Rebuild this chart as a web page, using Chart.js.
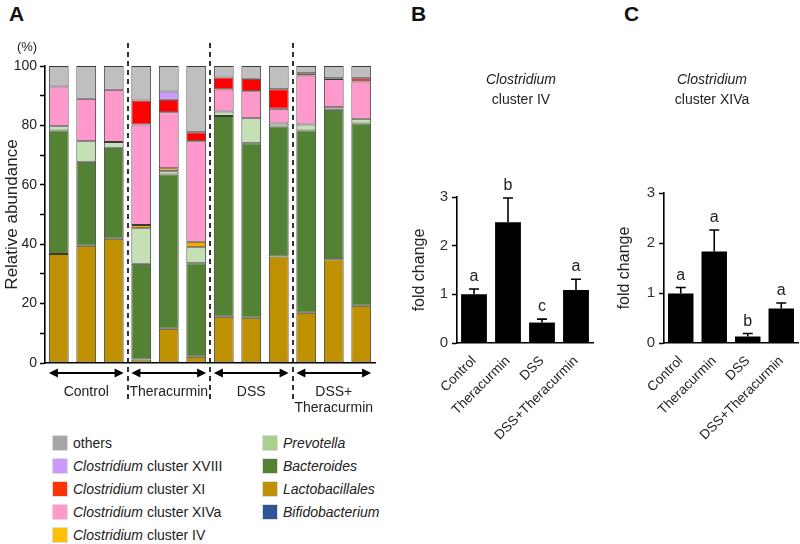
<!DOCTYPE html>
<html>
<head>
<meta charset="utf-8">
<script src="https://cdn.jsdelivr.net/npm/chart.js@4.4.0/dist/chart.umd.min.js"></script>
<style>
	body { margin: 0; width: 800px; height: 544px; position: relative; background: #fff; overflow: hidden;
		font-family: "Liberation Sans", Arial, sans-serif; color: #222; }
	canvas { position: absolute; top: 0; }
	.letter { position: absolute; font-weight: bold; font-size: 21px; color: #111; }
	.legend { position: absolute; font-size: 14px; color: #222; }
	.legend div { height: 23px; display: flex; align-items: center; white-space: nowrap; }
	.legend .sw { width: 16px; height: 16px; margin-right: 5px; display: inline-block; box-sizing: border-box; border: 1px solid #ddd; }
</style>
</head>
<body>
<div class="letter" style="left:9px;top:2px">A</div>
<div class="letter" style="left:411px;top:2px">B</div>
<div class="letter" style="left:624px;top:2px">C</div>

<canvas id="chartA" width="380" height="420" style="left:0"></canvas>
<canvas id="chartB" width="200" height="470" style="left:400px"></canvas>
<canvas id="chartC" width="195" height="470" style="left:605px"></canvas>

<div class="legend" id="legend1" style="left:52px;top:431px"></div>
<div class="legend" id="legend2" style="left:262px;top:431px"></div>

<script>
	'use strict';

	// Panel A: relative abundance (%), 3 mice per group
	const sampleLabels = ['C1', 'C2', 'C3', 'T1', 'T2', 'T3', 'D1', 'D2', 'D3', 'DT1', 'DT2', 'DT3'];
	const groupLabels = [['Control'], ['Theracurmin'], ['DSS'], ['DSS+', 'Theracurmin']];
	const bifidobacterium = [0, 0, 0, 0, 0, 0, 0, 0, 0, 0, 0, 0];
	const lactobacillales = [36.7, 39.5, 41.8, 1.2, 11.5, 2.1, 15.6, 15.2, 35.9, 16.9, 34.9, 19.3];
	const bacteroides = [41.6, 28.3, 30.7, 32.2, 52.0, 31.5, 67.6, 58.8, 43.7, 61.4, 50.4, 61.3];
	const prevotella = [1.4, 6.9, 1.9, 12.0, 1.1, 5.4, 1.5, 8.4, 1.0, 2.0, 0.8, 1.6];
	const clusterIV = [0, 0, 0, 1.1, 1.0, 1.8, 0, 0, 0, 0, 0, 0];
	const clusterXIVa = [13.4, 14.3, 17.6, 33.8, 18.8, 33.9, 7.4, 9.1, 5.0, 16.5, 9.5, 12.6];
	const clusterXI = [0, 0, 0, 8.1, 4.2, 3.0, 4.0, 4.2, 6.6, 0.8, 0.3, 1.1];
	const clusterXVIII = [0, 0, 0, 0, 2.8, 0, 0, 0, 0, 0, 0, 0];
	const others = [6.9, 11.0, 8.0, 11.6, 8.6, 22.3, 3.9, 4.3, 7.8, 2.4, 4.1, 4.1];
	const abundanceTicks = [0, 20, 40, 60, 80, 100];

	// Panels B and C: fold change (mean, SE)
	const foldCategories = ['Control', 'Theracurmin', 'DSS', 'DSS+Theracurmin'];
	const clusterIVMean = [1.0, 2.48, 0.42, 1.09];
	const clusterIVErr = [0.11, 0.50, 0.07, 0.22];
	const clusterIVLetters = ['a', 'b', 'c', 'a'];
	const clusterXIVaMean = [0.99, 1.83, 0.13, 0.69];
	const clusterXIVaErr = [0.12, 0.43, 0.06, 0.11];
	const clusterXIVaLetters = ['a', 'a', 'b', 'a'];
	const foldTicks = [0, 1, 2, 3];

	const FONT = '"Liberation Sans", Arial, sans-serif';

	// stacking order bottom -> top
	const stackSeries = [
		{ name: 'Bifidobacterium', data: bifidobacterium, color: '#2F5597', swatch: '#2F5597' },
		{ name: 'Lactobacillales', data: lactobacillales, color: '#BF9000', swatch: '#BF9000' },
		{ name: 'Bacteroides', data: bacteroides, color: '#548235', swatch: '#548235' },
		{ name: 'Prevotella', data: prevotella, color: '#C5E0B4', swatch: '#A9D18E' },
		{ name: 'Clostridium cluster IV', data: clusterIV, color: '#FFA500', swatch: '#FFC000' },
		{ name: 'Clostridium cluster XIVa', data: clusterXIVa, color: '#FF99CC', swatch: '#FF99CC' },
		{ name: 'Clostridium cluster XI', data: clusterXI, color: '#FF0000', swatch: '#FF3300' },
		{ name: 'Clostridium cluster XVIII', data: clusterXVIII, color: '#CC99FF', swatch: '#CC99FF' },
		{ name: 'others', data: others, color: '#BFBFBF', swatch: '#A6A6A6' }
	];

	/**
	 * Legend (HTML, two columns)
	 */
	function legendItem(s) {
		let label;
		if (s.name === 'others') {
			label = 'others';
		} else if (s.name.indexOf('Clostridium') === 0) {
			label = '<i>Clostridium</i>' + s.name.slice(11).replace(' ', '&nbsp;');
		} else {
			label = '<i>' + s.name + '</i>';
		}
		return '<div><span class="sw" style="background:' + s.swatch + '"></span>' + label + '</div>';
	}
	const col1 = ['others', 'Clostridium cluster XVIII', 'Clostridium cluster XI', 'Clostridium cluster XIVa', 'Clostridium cluster IV'];
	const col2 = ['Prevotella', 'Bacteroides', 'Lactobacillales', 'Bifidobacterium'];
	const byName = n => stackSeries.find(s => s.name === n);
	document.getElementById('legend1').innerHTML = col1.map(n => legendItem(byName(n))).join('');
	document.getElementById('legend2').innerHTML = col2.map(n => legendItem(byName(n))).join('');

	/**
	 * Panel A extras: dashed separators, arrows, group names, (%) unit
	 */
	const groupPlugin = {
		id: 'groups',
		afterDraw(chart) {
			const ctx = chart.ctx;
			const x = chart.scales.x;
			const area = chart.chartArea;
			ctx.save();

			// dashed separators
			ctx.strokeStyle = '#000';
			ctx.lineWidth = 1.6;
			ctx.setLineDash([5, 4]);
			[2.5, 5.5, 8.5].forEach(v => {
				const px = Math.round(x.getPixelForValue(v));
				ctx.beginPath();
				ctx.moveTo(px, 43);
				ctx.lineTo(px, 403);
				ctx.stroke();
			});
			ctx.setLineDash([]);

			// arrows + labels
			const ay = area.bottom + 10;
			ctx.fillStyle = '#000';
			ctx.lineWidth = 2;
			groupLabels.forEach((lines, g) => {
				const x0 = x.getPixelForValue(g * 3 - 0.36);
				const x1 = x.getPixelForValue(g * 3 + 2 + 0.36);
				ctx.beginPath();
				ctx.moveTo(x0 + 4, ay);
				ctx.lineTo(x1 - 4, ay);
				ctx.stroke();
				[[x0, 1], [x1, -1]].forEach(([hx, d]) => {
					ctx.beginPath();
					ctx.moveTo(hx, ay);
					ctx.lineTo(hx + d * 9, ay - 4.5);
					ctx.lineTo(hx + d * 9, ay + 4.5);
					ctx.closePath();
					ctx.fill();
				});
				ctx.fillStyle = '#222';
				ctx.font = '14px ' + FONT;
				ctx.textAlign = 'center';
				ctx.textBaseline = 'middle';
				const cx = (x0 + x1) / 2;
				lines.forEach((t, i) => ctx.fillText(t, cx, area.bottom + 29 + i * 16));
				ctx.fillStyle = '#000';
			});

			// unit
			ctx.fillStyle = '#222';
			ctx.font = '13px ' + FONT;
			ctx.textAlign = 'center';
			ctx.textBaseline = 'middle';
			ctx.fillText('(%)', 27, 47);
			ctx.restore();
		}
	};

	new Chart(document.getElementById('chartA'), {
		type: 'bar',
		data: {
			labels: sampleLabels,
			datasets: stackSeries.map(s => ({
				label: s.name,
				data: s.data.map(v => (v === 0 ? null : v)),
				backgroundColor: s.color,
				borderColor: '#3a3a3a',
				borderWidth: 1,
				borderSkipped: false,
				categoryPercentage: 1,
				barPercentage: 0.72
			}))
		},
		options: {
			responsive: false,
			animation: false,
			layout: { padding: { top: 66, right: 5, left: 0, bottom: 0 } },
			plugins: { legend: { display: false }, tooltip: { enabled: false } },
			scales: {
				x: {
					stacked: true,
					grid: { display: false },
					border: { color: '#000', width: 1.6 },
					ticks: { display: false },
					afterFit: s => { s.height = 57; s.paddingLeft = 0; s.paddingRight = 0; }
				},
				y: {
					stacked: true,
					min: 0,
					max: 100,
					ticks: {
						stepSize: 10,
						autoSkip: false,
						padding: 3,
						color: '#222',
						font: { family: FONT, size: 14 },
						callback: v => (abundanceTicks.includes(v) ? v : '')
					},
					grid: { drawOnChartArea: false, color: '#000', tickLength: 5, tickWidth: 1.5 },
					border: { color: '#000', width: 1.6 },
					title: {
						display: true,
						text: 'Relative abundance',
						color: '#222',
						font: { family: FONT, size: 17 },
						padding: { top: 2, bottom: 0 }
					},
					afterFit: s => { s.width = 45; s.paddingTop = 0; s.paddingBottom = 0; }
				}
			}
		},
		plugins: [groupPlugin]
	});

	/**
	 * Fold-change bar panels (B, C)
	 */
	function renderFoldChart(id, means, errs, letters, titleLine2, titleX, top) {
		const foldPlugin = {
			id: 'fold-' + id,
			afterDatasetsDraw(chart) {
				const ctx = chart.ctx;
				const x = chart.scales.x;
				const y = chart.scales.y;
				ctx.save();
				ctx.strokeStyle = '#000';
				ctx.lineWidth = 1.6;
				means.forEach((m, i) => {
					const px = x.getPixelForValue(i);
					const y0 = y.getPixelForValue(m);
					const y1 = y.getPixelForValue(m + errs[i]);
					ctx.beginPath();
					ctx.moveTo(px, y0);
					ctx.lineTo(px, y1);
					ctx.moveTo(px - 5, y1);
					ctx.lineTo(px + 5, y1);
					ctx.stroke();
					ctx.fillStyle = '#222';
					ctx.font = '16px ' + FONT;
					ctx.textAlign = 'center';
					ctx.textBaseline = 'alphabetic';
					ctx.fillText(letters[i], px, y1 - 8);
				});
				ctx.font = 'italic 14px ' + FONT;
				ctx.textBaseline = 'middle';
				ctx.fillText('Clostridium', titleX, 80);
				ctx.font = '14px ' + FONT;
				ctx.fillText(titleLine2, titleX, 100);
				ctx.restore();
			}
		};

		new Chart(document.getElementById(id), {
			type: 'bar',
			data: {
				labels: foldCategories,
				datasets: [{
					data: means,
					backgroundColor: '#000',
					categoryPercentage: 1,
					barPercentage: 0.76
				}]
			},
			options: {
				responsive: false,
				animation: false,
				layout: { padding: { top: top, right: id === 'chartB' ? 7 : 2, left: 0, bottom: 0 } },
				plugins: { legend: { display: false }, tooltip: { enabled: false } },
				scales: {
					x: {
						grid: { display: false },
						border: { color: '#000', width: 1.6 },
						ticks: {
							autoSkip: false,
							minRotation: 45,
							maxRotation: 45,
							padding: 2,
							color: '#222',
							font: { family: FONT, size: 13.5 }
						},
						afterFit: s => { s.height = 470 - 343; s.paddingLeft = 0; s.paddingRight = 0; }
					},
					y: {
						min: 0,
						max: 3,
						afterBuildTicks: s => { s.ticks = foldTicks.map(v => ({ value: v })); },
						ticks: { padding: 4, color: '#333', font: { family: FONT, size: 15 } },
						grid: { drawOnChartArea: false, color: '#000', tickLength: 5, tickWidth: 1.5 },
						border: { color: '#000', width: 1.6 },
						title: {
							display: true,
							text: 'fold change',
							color: '#222',
							font: { family: FONT, size: 16 },
							padding: { top: 10, bottom: 0 }
						},
						afterFit: s => { s.width = id === 'chartB' ? 57 : 59; s.paddingTop = 0; s.paddingBottom = 0; }
					}
				}
			},
			plugins: [foldPlugin]
		});
	}

	renderFoldChart('chartB', clusterIVMean, clusterIVErr, clusterIVLetters, 'cluster IV', 121, 197);
	renderFoldChart('chartC', clusterXIVaMean, clusterXIVaErr, clusterXIVaLetters, 'cluster XIVa', 107, 193);
</script>
</body>
</html>
